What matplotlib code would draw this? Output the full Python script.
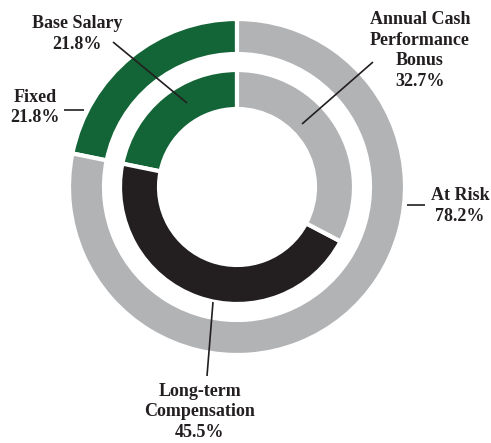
import matplotlib.pyplot as plt

# === Data ===
outer_labels = ['Fixed', 'At Risk']
outer_values = [21.8, 78.2]
inner_labels = ['Base Salary', 'Long-term\nCompensation', 'Annual Cash\nPerformance\nBonus']
inner_values = [21.8, 45.5, 32.7]

GREEN = '#136436'
GRAY = '#b2b3b5'
BLACK = '#231f20'
outer_colors = [GREEN, GRAY]
inner_colors = [GREEN, BLACK, GRAY]

W, H = 491, 443
CX, CY = 237, 187          # centre in pixel coords (y from top)
R_OUT, W_OUT = 168, 35
R_IN, W_IN = 117, 39

plt.rcParams['font.family'] = ['Liberation Serif', 'DejaVu Serif']

fig = plt.figure(figsize=(W / 100, H / 100), dpi=100)
ax = fig.add_axes([0, 0, 1, 1])

def px(x, y):
    # pixel (from top-left) -> data coords
    return x, H - y

center = px(CX, CY)
wedge_kw = dict(edgecolor='white', linewidth=3)
ax.pie(outer_values, radius=R_OUT, center=center, startangle=90, counterclock=True,
       colors=outer_colors, wedgeprops=dict(width=W_OUT, **wedge_kw))
ax.pie(inner_values, radius=R_IN, center=center, startangle=90, counterclock=True,
       colors=inner_colors, wedgeprops=dict(width=W_IN, **wedge_kw))

ax.set_xlim(0, W)
ax.set_ylim(0, H)
ax.set_aspect('equal')
ax.axis('off')

# label text, text centre, leader start, leader end (pixels)
labels = [
    (inner_labels[0], inner_values[0], (77, 34), (113, 42), (187, 103)),
    (outer_labels[0], outer_values[0], (35, 107.5), (64, 110), (84, 110)),
    (inner_labels[2], inner_values[2], (420, 50.5), (373, 62), (302, 124)),
    (outer_labels[1], outer_values[1], (460, 206), (425, 205), (407, 205)),
    (inner_labels[1], inner_values[1], (200, 412), (207, 376), (213, 302)),
]
for name, val, tpos, p0, p1 in labels:
    ax.text(*px(*tpos), f'{name}\n{val:.1f}%', ha='center', va='center',
            fontsize=13, fontweight='bold', color='#231f20', linespacing=1.3)
    x0, y0 = px(*p0)
    x1, y1 = px(*p1)
    ax.plot([x0, x1], [y0, y1], color='#231f20', lw=1.2, solid_capstyle='butt')

fig.savefig('out.png', dpi=100)
